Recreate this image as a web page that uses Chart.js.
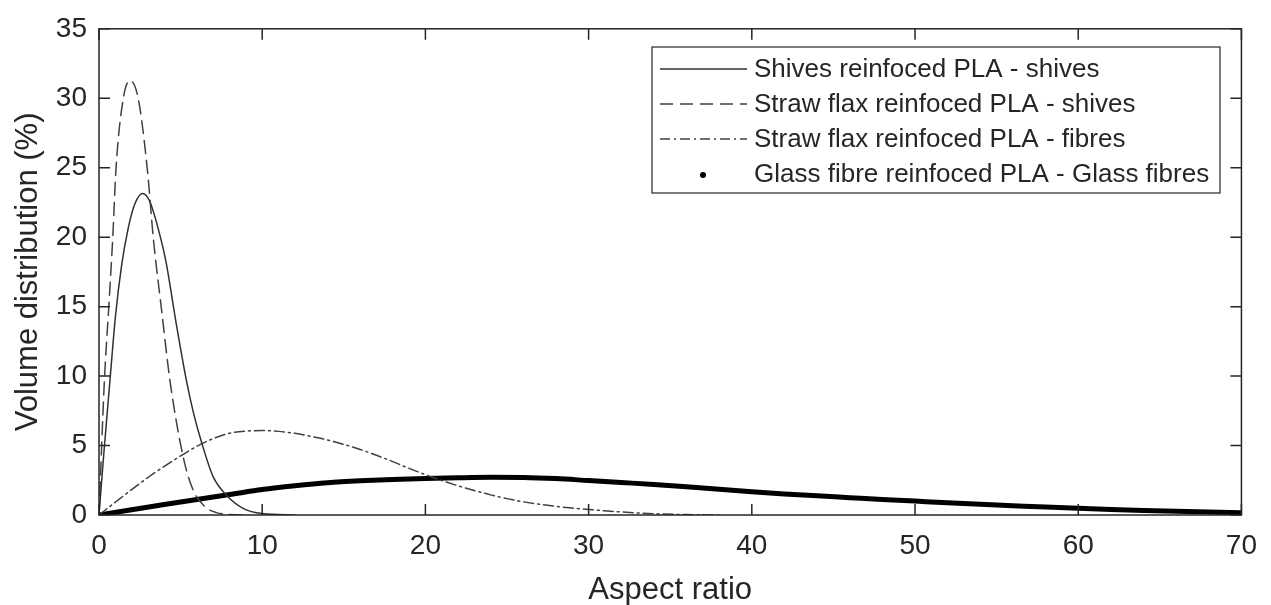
<!DOCTYPE html>
<html>
<head>
<meta charset="utf-8">
<script src="https://cdn.jsdelivr.net/npm/chart.js@4.4.1/dist/chart.umd.min.js"></script>
<style>
  html, body { margin: 0; padding: 0; background: #fff; }
  #wrap { width: 1271px; height: 605px; }
</style>
</head>
<body>
<div id="wrap"><canvas id="distChart" width="1271" height="605"></canvas></div>
<script>
// series labels
const seriesLabels = [
  'Shives reinfoced PLA - shives',
  'Straw flax reinfoced PLA - shives',
  'Straw flax reinfoced PLA - fibres',
  'Glass fibre reinfoced PLA - Glass fibres'
];

// values (aspect ratio vs volume %)
const shivesX = [0, 0.3, 0.67, 1.0, 1.39, 1.8, 2.2, 2.67, 3.1, 3.63, 4.1, 4.7, 5.36, 5.8, 6.28, 7.0, 7.81, 8.83, 10, 12];
const shivesY = [0, 4.5, 9.66, 14.2, 18.0, 20.7, 22.4, 23.14, 22.6, 20.6, 18.25, 14.0, 9.66, 7.3, 5.25, 2.74, 1.43, 0.48, 0.1, 0];

const strawShivesX = [0, 0.33, 0.6, 0.84, 1.04, 1.49, 1.9, 2.4, 2.96, 3.33, 3.85, 4.35, 5.16, 5.77, 6.49, 7.2, 8, 9];
const strawShivesY = [0, 9.66, 15, 19.9, 24.9, 30, 31.26, 30, 24.9, 19.9, 14.6, 9.66, 4.17, 1.79, 0.6, 0.17, 0.04, 0];

const strawFibresX = [0, 1, 2, 3, 4, 5, 6, 7, 8, 9, 10, 11, 12, 13, 14, 15, 16, 17, 18, 19, 20, 21, 22, 23, 24, 25, 26, 27, 28, 29, 30, 31, 32, 33, 34, 36, 38];
const strawFibresY = [0, 0.92, 1.83, 2.7, 3.5, 4.25, 4.95, 5.5, 5.88, 6.04, 6.08, 6.02, 5.88, 5.66, 5.4, 5.08, 4.72, 4.3, 3.84, 3.36, 2.9, 2.48, 2.1, 1.76, 1.45, 1.18, 0.95, 0.77, 0.62, 0.5, 0.4, 0.3, 0.22, 0.15, 0.09, 0.03, 0];

const glassX = [0, 2, 4, 6, 8, 10, 12, 14, 16, 18, 20, 22, 24, 26, 28, 30, 32, 34, 36, 38, 40, 42, 44, 46, 48, 50, 52, 54, 56, 58, 60, 62, 64, 66, 68, 70];
const glassY = [0, 0.38, 0.76, 1.12, 1.47, 1.83, 2.1, 2.32, 2.46, 2.56, 2.63, 2.68, 2.71, 2.7, 2.62, 2.48, 2.34, 2.2, 2.04, 1.86, 1.67, 1.52, 1.38, 1.25, 1.12, 1.0, 0.88, 0.77, 0.67, 0.57, 0.48, 0.4, 0.33, 0.27, 0.21, 0.17];

const xTicks = [0, 10, 20, 30, 40, 50, 60, 70];
const yTicks = [0, 5, 10, 15, 20, 25, 30, 35];

const ink = '#262626';
const fontName = '"Liberation Sans", Arial, Helvetica, sans-serif';

function toPoints(xs, ys) {
  return xs.map((x, i) => ({ x: x, y: ys[i] }));
}

// box around the plot + matlab style inward ticks + legend
const matlabFrame = {
  id: 'matlabFrame',
  afterDatasetsDraw(chart) {
    const ctx = chart.ctx;
    const a = chart.chartArea;
    const xs = chart.scales.x;
    const ys = chart.scales.y;
    const tick = 11;
    ctx.save();
    ctx.strokeStyle = ink;
    ctx.lineWidth = 1.5;
    ctx.strokeRect(a.left, a.top, a.right - a.left, a.bottom - a.top);
    ctx.beginPath();
    xTicks.forEach(v => {
      const px = xs.getPixelForValue(v);
      ctx.moveTo(px, a.bottom); ctx.lineTo(px, a.bottom - tick);
      ctx.moveTo(px, a.top); ctx.lineTo(px, a.top + tick);
    });
    yTicks.forEach(v => {
      const py = ys.getPixelForValue(v);
      ctx.moveTo(a.left, py); ctx.lineTo(a.left + tick, py);
      ctx.moveTo(a.right, py); ctx.lineTo(a.right - tick, py);
    });
    ctx.stroke();

    // legend
    const lx = 652, ly = 47, lw = 568, lh = 146;
    ctx.fillStyle = '#fff';
    ctx.fillRect(lx, ly, lw, lh);
    ctx.lineWidth = 1.2;
    ctx.strokeRect(lx, ly, lw, lh);
    ctx.font = '26px ' + fontName;
    ctx.textBaseline = 'middle';
    chart.data.datasets.forEach((ds, i) => {
      const y = 69 + i * 35;
      ctx.strokeStyle = ds.borderColor;
      ctx.fillStyle = ds.borderColor;
      if (i < 3) {
        ctx.lineWidth = 1.5;
        ctx.setLineDash(ds.borderDash || []);
        ctx.beginPath();
        ctx.moveTo(660, y);
        ctx.lineTo(747, y);
        ctx.stroke();
        ctx.setLineDash([]);
      } else {
        ctx.beginPath();
        ctx.arc(703, y + 1, 3, 0, Math.PI * 2);
        ctx.fill();
      }
      ctx.fillStyle = ink;
      ctx.fillText(ds.label, 754, y + 1);
    });
    ctx.restore();
  }
};

const ctx = document.getElementById('distChart').getContext('2d');
new Chart(ctx, {
  type: 'line',
  data: {
    datasets: [
      {
        label: seriesLabels[0],
        data: toPoints(shivesX, shivesY),
        borderColor: '#303030',
        borderWidth: 1.5
      },
      {
        label: seriesLabels[1],
        data: toPoints(strawShivesX, strawShivesY),
        borderColor: '#404040',
        borderWidth: 1.5,
        borderDash: [13, 7]
      },
      {
        label: seriesLabels[2],
        data: toPoints(strawFibresX, strawFibresY),
        borderColor: '#404040',
        borderWidth: 1.5,
        borderDash: [10, 4, 2, 4]
      },
      {
        label: seriesLabels[3],
        data: toPoints(glassX, glassY),
        borderColor: '#000000',
        borderWidth: 5
      }
    ]
  },
  options: {
    responsive: false,
    animation: false,
    events: [],
    elements: { point: { radius: 0 }, line: { cubicInterpolationMode: 'monotone', borderCapStyle: 'round' } },
    layout: { padding: { top: 26, right: 28, left: 0, bottom: 0 } },
    plugins: { legend: { display: false }, tooltip: { enabled: false } },
    scales: {
      x: {
        type: 'linear',
        min: 0,
        max: 70,
        afterBuildTicks(scale) { scale.ticks = xTicks.map(v => ({ value: v })); },
        afterFit(scale) { scale.height = 90; },
        grid: { display: false, drawTicks: false },
        border: { display: false },
        ticks: { color: ink, font: { family: fontName, size: 28 }, padding: 14, maxRotation: 0 },
        title: { display: true, text: 'Aspect ratio', color: ink, font: { family: fontName, size: 31 }, padding: { top: 0, bottom: -4 } }
      },
      y: {
        min: 0,
        max: 35,
        afterBuildTicks(scale) { scale.ticks = yTicks.map(v => ({ value: v })); },
        afterFit(scale) { scale.width = 99; },
        grid: { display: false, drawTicks: false },
        border: { display: false },
        ticks: { color: ink, font: { family: fontName, size: 28 }, padding: 12 },
        title: { display: true, text: 'Volume distribution (%)', color: ink, font: { family: fontName, size: 31 }, padding: { top: 10, bottom: 0 } }
      }
    }
  },
  plugins: [matlabFrame]
});
</script>
</body>
</html>
